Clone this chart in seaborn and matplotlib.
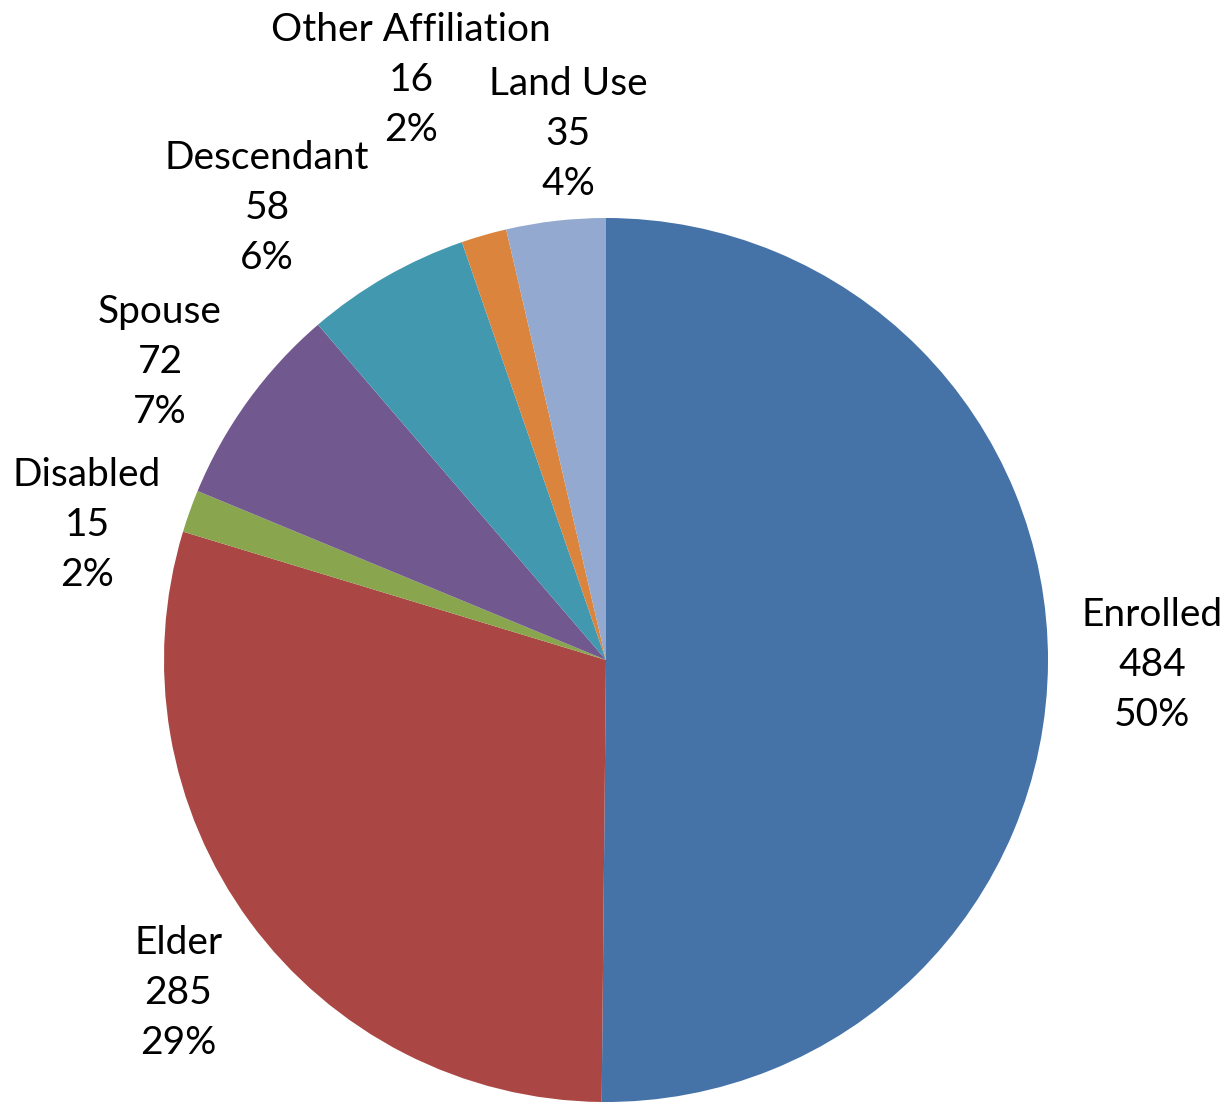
import matplotlib
matplotlib.use("Agg")
import matplotlib.pyplot as plt
import seaborn as sns

categories = ["Enrolled", "Elder", "Disabled", "Spouse", "Descendant", "Other Affiliation", "Land Use"]
values = [484, 285, 15, 72, 58, 16, 35]
percent_labels = ["50%", "29%", "2%", "7%", "6%", "2%", "4%"]
colors = ["#4572A7", "#AA4643", "#89A54E", "#71588F", "#4198AF", "#DB843D", "#93A9CF"]

# label centre positions (in pie radius units)
label_pos = [(1.235, -0.011), (-0.968, -0.753), (-1.174, 0.305), (-1.009, 0.674),
             (-0.767, 1.023), (-0.441, 1.312), (-0.086, 1.190)]

sns.set_theme(style="white")
plt.rcParams["font.family"] = ["Lato", "DejaVu Sans"]

fig = plt.figure(figsize=(12.32, 11.03), dpi=100)
ax = fig.add_axes([0, 0, 1, 1])
R = 442.0
cx, cy = 606.0, 660.0
ax.pie(values, colors=colors, startangle=90, counterclock=False, radius=1.0,
       wedgeprops=dict(linewidth=0))
ax.set_aspect("auto")
ax.set_xlim(-cx / R, (1232 - cx) / R)
ax.set_ylim(-(1103 - cy) / R, cy / R)
ax.axis("off")

for cat, v, p, (x, y) in zip(categories, values, percent_labels, label_pos):
    ax.text(x, y, f"{cat}\n{v}\n{p}", ha="center", va="center", fontsize=28,
            linespacing=1.48, color="black")

fig.savefig("out.png", dpi=100)
